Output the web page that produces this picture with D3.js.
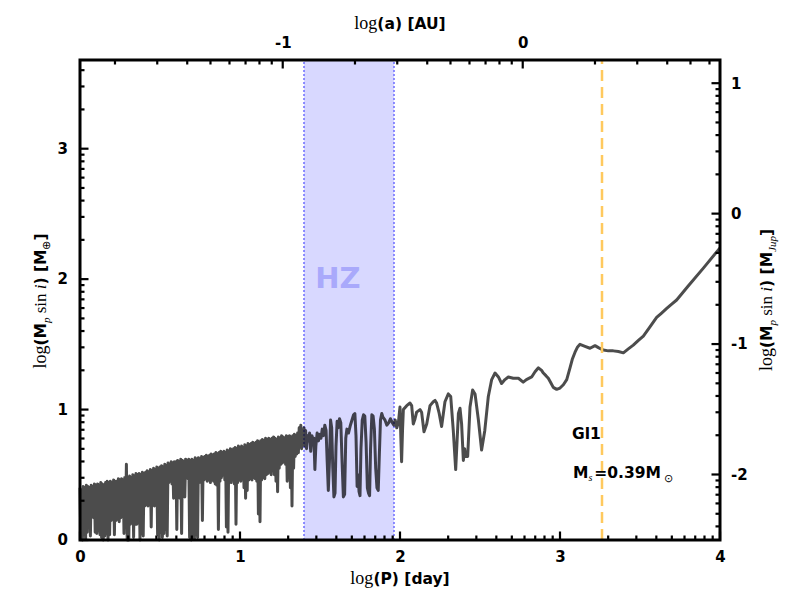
<!DOCTYPE html>
<html>
<head>
<meta charset="utf-8">
<style>
  body { margin: 0; background: #fff; }
  svg { display: block; }
  .tick text { font-family: 'DejaVu Sans', sans-serif; font-weight: bold; font-size: 15px; fill: #000; }
  .bold { font-family: 'DejaVu Sans', sans-serif; font-weight: bold; }
  .serif { font-family: 'Liberation Serif', serif; font-weight: normal; }
</style>
</head>
<body>
<svg width="800" height="600"></svg>
<script src="https://d3js.org/d3.v7.min.js"></script>
<script>
// ---- data ----
// dense part of the detection-limit curve, sampled every 0.01 in log(P)
const noiseStep = 0.01;
const noisyPeaks = [
  0.40,0.38,0.41,0.40,0.42,0.41,0.40,0.42,0.41,0.43,
  0.42,0.43,0.42,0.44,0.43,0.42,0.44,0.45,0.44,0.45,
  0.44,0.46,0.45,0.45,0.47,0.46,0.47,0.46,0.48,0.58,
  0.48,0.49,0.48,0.50,0.49,0.51,0.50,0.51,0.50,0.52,
  0.51,0.52,0.53,0.52,0.54,0.53,0.55,0.54,0.56,0.55,
  0.56,0.57,0.56,0.58,0.57,0.59,0.58,0.60,0.59,0.60,
  0.60,0.61,0.60,0.62,0.61,0.60,0.62,0.61,0.62,0.61,
  0.62,0.61,0.63,0.62,0.63,0.62,0.64,0.63,0.64,0.65,
  0.64,0.65,0.66,0.65,0.66,0.67,0.66,0.67,0.68,0.67,
  0.68,0.67,0.69,0.68,0.70,0.69,0.70,0.71,0.70,0.72,
  0.71,0.72,0.71,0.73,0.72,0.74,0.73,0.74,0.75,0.74,
  0.75,0.76,0.75,0.76,0.77,0.76,0.78,0.77,0.78,0.77,
  0.78,0.79,0.78,0.77,0.79,0.78,0.80,0.79,0.78,0.80,
  0.79,0.80,0.79,0.80,0.81,0.80,0.82,0.86,0.88,0.84
];
const noisyTroughs = [
  0.02,0.00,0.04,0.01,0.06,0.18,0.03,0.20,0.17,0.06,
  0.05,0.07,0.04,0.02,0.00,0.03,0.05,0.00,0.04,0.15,
  0.16,0.04,0.15,0.16,0.14,0.17,0.18,0.05,0.16,0.00,
  0.00,0.12,0.13,0.02,0.12,0.12,0.14,0.00,0.05,0.03,
  0.26,0.27,0.26,0.28,0.10,0.27,0.26,0.28,0.04,0.00,
  0.06,0.02,0.05,0.08,0.03,0.44,0.45,0.43,0.32,0.34,
  0.08,0.33,0.32,0.05,0.34,0.33,0.48,0.47,0.02,0.00,
  0.03,0.01,0.04,0.02,0.44,0.46,0.15,0.46,0.47,0.45,
  0.46,0.44,0.46,0.45,0.43,0.42,0.08,0.45,0.48,0.50,
  0.46,0.10,0.06,0.45,0.44,0.46,0.43,0.12,0.44,0.46,
  0.45,0.47,0.40,0.32,0.38,0.46,0.47,0.46,0.48,0.47,
  0.45,0.20,0.14,0.46,0.48,0.47,0.50,0.51,0.52,0.50,
  0.53,0.50,0.45,0.37,0.55,0.58,0.59,0.60,0.58,0.45,
  0.60,0.40,0.26,0.55,0.64,0.66,0.67,0.74,0.70,0.74
];
// rest of the curve, log(P) [day] and log(M sin i) [M_earth]
const curveLogP = [
  1.400,1.405,1.410,1.416,1.422,1.428,1.435,1.442,1.450,1.456,1.462,1.468,1.474,1.482,1.490,1.498,
  1.506,1.514,1.522,1.530,1.538,1.545,1.552,1.559,1.566,1.573,1.580,1.587,1.594,1.600,1.607,1.614,
  1.622,1.630,1.638,1.646,1.654,1.661,1.668,1.678,1.690,1.700,1.710,1.718,1.725,1.732,1.738,1.744,
  1.750,1.756,1.764,1.772,1.780,1.788,1.796,1.803,1.810,1.816,1.824,1.832,1.840,1.848,1.856,1.864,
  1.870,1.878,1.886,1.894,1.906,1.918,1.930,1.940,1.952,1.962,1.970,1.980,1.990,2.000,2.005,2.010,
  2.016,2.021,2.042,2.0625,2.073,2.083,2.094,2.104,2.125,2.135,2.150,2.167,2.1875,2.208,2.219,2.229,
  2.245,2.260,2.281,2.302,2.317,2.333,2.348,2.365,2.375,2.385,2.396,2.404,2.410,2.423,2.4375,2.454,
  2.469,2.490,2.510,2.530,2.552,2.573,2.594,2.615,2.635,2.656,2.677,2.708,2.740,2.770,2.790,2.823,
  2.844,2.865,2.885,2.896,2.912,2.927,2.945,2.958,2.979,3.000,3.021,3.042,3.0625,3.078,3.094,3.110,
  3.125,3.156,3.1875,3.219,3.240,3.271,3.302,3.333,3.365,3.396,3.427,3.458,3.490,3.521,3.560,3.604,
  3.635,3.667,3.700,3.729,3.800,3.900,4.000
];
const curveMass = [
  0.86,0.72,0.84,0.70,0.80,0.76,0.82,0.68,0.80,0.74,0.78,0.54,0.72,0.82,0.76,0.81,
  0.78,0.85,0.80,0.88,0.84,0.60,0.38,0.60,0.92,0.86,0.55,0.33,0.36,0.72,0.91,0.86,
  0.93,0.90,0.60,0.33,0.35,0.78,0.85,0.82,0.88,0.92,0.96,0.97,0.80,0.41,0.50,0.37,
  0.34,0.70,0.92,0.96,0.95,0.75,0.40,0.36,0.34,0.70,0.96,0.95,0.85,0.55,0.40,0.38,
  0.62,0.92,0.97,0.94,0.92,0.88,0.90,0.93,0.90,0.88,0.92,0.86,0.90,1.02,0.80,0.60,
  0.85,1.00,1.03,1.05,1.03,0.89,0.93,0.98,1.00,0.98,0.83,0.89,1.03,1.06,1.07,1.05,
  0.97,0.87,1.06,1.12,1.10,0.84,0.54,0.97,1.01,0.89,0.61,0.70,0.64,0.64,1.02,1.15,
  1.12,0.92,0.69,0.84,1.10,1.23,1.28,1.25,1.20,1.23,1.25,1.24,1.24,1.21,1.23,1.25,
  1.29,1.32,1.30,1.28,1.26,1.24,1.20,1.17,1.155,1.165,1.19,1.23,1.32,1.39,1.44,1.48,
  1.50,1.485,1.47,1.49,1.475,1.456,1.45,1.45,1.445,1.435,1.465,1.494,1.53,1.563,1.63,1.706,
  1.74,1.775,1.81,1.84,1.945,2.09,2.24
];
const hzRange = [1.40, 1.9625];          // habitable zone in log(P)
const starLogP = 3.2625;                 // orange dashed line
const starMass = 0.39;                   // M_sun
const bottomTicks = [0, 1, 2, 3, 4];
const leftTicks = [0, 1, 2, 3];
const rightTicks = [-2, -1, 0, 1];
const topTicks = [-1, 0];

// ---- layout ----
const margin = { left: 80, right: 80, top: 60, bottom: 60 };
const width = 800, height = 600;
const yMax = 3.68;
const earthToJup = Math.log10(317.83);

const svg = d3.select("svg");

const x = d3.scaleLinear().domain([0, 4]).range([margin.left, width - margin.right]);
const y = d3.scaleLinear().domain([0, yMax]).range([height - margin.bottom, margin.top]);
const yRight = d3.scaleLinear().domain([-earthToJup, yMax - earthToJup]).range(y.range());
// Kepler: log a [AU] from log P [day]
const logA = p => (2 * (p - Math.log10(365.25)) + Math.log10(starMass)) / 3;
const xTop = d3.scaleLinear().domain([logA(0), logA(4)]).range(x.range());

function logMinor(scale) {
  const [lo, hi] = d3.extent(scale.domain());
  const out = [];
  for (let n = Math.floor(lo); n <= Math.ceil(hi); n++) {
    for (let k = 2; k <= 9; k++) {
      const v = n + Math.log10(k);
      if (v > lo && v < hi) out.push(v);
    }
  }
  return out;
}

const points = [];
noisyPeaks.forEach((v, i) => {
  points.push([i * noiseStep, v]);
  points.push([i * noiseStep + noiseStep / 2, noisyTroughs[i]]);
});
curveLogP.forEach((p, i) => points.push([p, curveMass[i]]));

const plot = svg.append("g");

// habitable zone
plot.append("rect")
  .attr("x", x(hzRange[0])).attr("y", y(yMax))
  .attr("width", x(hzRange[1]) - x(hzRange[0]))
  .attr("height", y(0) - y(yMax))
  .attr("fill", "#d8d8ff");

plot.append("text")
  .attr("class", "bold")
  .attr("x", x((hzRange[0] + hzRange[1]) / 2) - 11)
  .attr("y", 288)
  .attr("text-anchor", "middle")
  .attr("font-size", 29)
  .attr("fill", "#a9a9fb")
  .text("HZ");

hzRange.forEach(p => {
  plot.append("line")
    .attr("x1", x(p)).attr("x2", x(p))
    .attr("y1", y(0)).attr("y2", y(yMax))
    .attr("stroke", "#6c6cff")
    .attr("stroke-width", 1.5)
    .attr("stroke-dasharray", "2,2");
});

// detection-limit curve
plot.append("path")
  .datum(points)
  .attr("fill", "none")
  .attr("stroke", "#000")
  .attr("stroke-opacity", 0.7)
  .attr("stroke-width", 3)
  .attr("stroke-linejoin", "round")
  .attr("d", d3.line().x(d => x(d[0])).y(d => y(d[1])));

plot.append("line")
  .attr("x1", x(starLogP)).attr("x2", x(starLogP))
  .attr("y1", y(0)).attr("y2", y(yMax))
  .attr("stroke", "#ffc95e")
  .attr("stroke-width", 2.5)
  .attr("stroke-dasharray", "11,6");

// ---- axes: labels from d3.axis, tick marks drawn separately ----
function drawLabels(axisFn, scale, major, transform, pad) {
  svg.append("g").attr("transform", transform)
    .call(axisFn(scale).tickValues(major).tickSize(0).tickPadding(pad).tickFormat(d3.format("d")))
    .call(g => g.select(".domain").remove())
    .call(g => g.selectAll(".tick line").remove());
}
drawLabels(d3.axisBottom, x, bottomTicks, `translate(0,${y(0)})`, 11);
drawLabels(d3.axisLeft, y, leftTicks, `translate(${x(0)},0)`, 12);
drawLabels(d3.axisRight, yRight, rightTicks, `translate(${x(4)},0)`, 11);
drawLabels(d3.axisTop, xTop, topTicks, `translate(0,${y(yMax)})`, 12);
svg.selectAll(".tick text").text(function () { return this.textContent.replace("−", "-"); });

svg.append("rect")
  .attr("x", x(0)).attr("y", y(yMax))
  .attr("width", x(4) - x(0)).attr("height", y(0) - y(yMax))
  .attr("fill", "none").attr("stroke", "#000").attr("stroke-width", 3);

// tick marks pointing into the plot
function tickMarks(scale, values, len, horizontal, edge, dir) {
  svg.append("g").selectAll("line")
    .data(values)
    .join("line")
    .attr("x1", d => horizontal ? scale(d) : edge)
    .attr("x2", d => horizontal ? scale(d) : edge + dir * len)
    .attr("y1", d => horizontal ? edge : scale(d))
    .attr("y2", d => horizontal ? edge + dir * len : scale(d))
    .attr("stroke", "#000")
    .attr("stroke-width", 2.2);
}
[[x, bottomTicks, true, y(0), -1], [xTop, topTicks, true, y(yMax), 1],
 [y, leftTicks, false, x(0), 1], [yRight, rightTicks, false, x(4), -1]]
  .forEach(([s, major, hor, edge, dir]) => {
    tickMarks(s, logMinor(s), 4.5, hor, edge, dir);
    tickMarks(s, major, 8.5, hor, edge, dir);
  });

// ---- titles ----
function title(tx, ty, rot, parts) {
  const t = svg.append("text")
    .attr("transform", `translate(${tx},${ty}) rotate(${rot})`)
    .attr("text-anchor", "middle");
  parts.forEach(([txt, cls, size, dy, style]) => {
    t.append("tspan").attr("class", cls).attr("font-size", size)
      .attr("dy", dy || 0).attr("font-style", style || "normal").text(txt);
  });
}
title(400, 584, 0, [["log", "serif", 18], ["(P) [day]", "bold", 15.5]]);
title(400, 29, 0, [["log", "serif", 18], ["(a) [AU]", "bold", 15.5]]);
const massParts = sub => [
  ["log", "serif", 18], ["(M", "bold", 15.5], ["p", "serif", 11, 4, "italic"],
  [" sin ", "serif", 17, -4], ["i", "serif", 17, 0, "italic"], [") [M", "bold", 15.5],
  [sub, "serif", 11, 4, sub === "⊕" ? "normal" : "italic"], ["]", "bold", 15.5, -4]
];
title(46, 301, -90, massParts("⊕"));
title(772, 300, -90, massParts("Jup"));

svg.append("text").attr("class", "bold").attr("x", 572).attr("y", 439)
  .attr("font-size", 15.5).text("Gl1");
const ms = svg.append("text").attr("x", 573).attr("y", 478);
ms.append("tspan").attr("class", "bold").attr("font-size", 15.5).text("M");
ms.append("tspan").attr("class", "serif").attr("font-style", "italic").attr("font-size", 10).attr("dy", 3).text("s");
ms.append("tspan").attr("class", "bold").attr("font-size", 15.5).attr("dy", -3).attr("dx", 2).text("=0.39M");
ms.append("tspan").attr("class", "serif").attr("font-size", 11).attr("dy", 4).attr("dx", 3).text("⊙");
</script>
</body>
</html>
